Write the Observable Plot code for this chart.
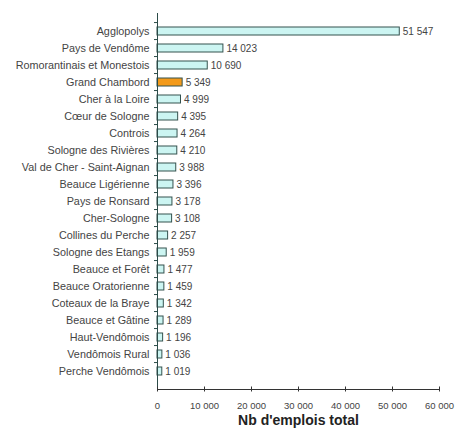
<!DOCTYPE html>
<html><head><meta charset="utf-8">
<script src="https://cdn.jsdelivr.net/npm/d3@7"></script>
<script src="https://cdn.jsdelivr.net/npm/@observablehq/plot@0.6"></script>
<style>
body{margin:0;background:#fff;}
#chart{width:457px;height:437px;}
</style>
</head><body><div id="chart"></div>
<script>
const territories = ["Agglopolys","Pays de Vendôme","Romorantinais et Monestois","Grand Chambord","Cher à la Loire","Cœur de Sologne","Controis","Sologne des Rivières","Val de Cher - Saint-Aignan","Beauce Ligérienne","Pays de Ronsard","Cher-Sologne","Collines du Perche","Sologne des Etangs","Beauce et Forêt","Beauce Oratorienne","Coteaux de la Braye","Beauce et Gâtine","Haut-Vendômois","Vendômois Rural","Perche Vendômois"];
const emplois = [51547,14023,10690,5349,4999,4395,4264,4210,3988,3396,3178,3108,2257,1959,1477,1459,1342,1289,1196,1036,1019];
const highlight = "Grand Chambord";
const xTicks = [0,10000,20000,30000,40000,50000,60000];
const xTitle = "Nb d'emplois total";

const fr = d3.formatLocale({decimal:",", thousands:"\u00a0", grouping:[3], currency:["","€"]});
const fmt = fr.format(",d");
const data = territories.map((t,i)=>({t, v: emplois[i], hl: t===highlight}));

const W = 457, H = 437, mt = 13, mb = 48, ml = 157, mr = 18;
const step = (H - mt - mb) / territories.length;

const chart = Plot.plot({
  width: W, height: H,
  marginTop: mt, marginBottom: mb, marginLeft: ml, marginRight: mr,
  style: {fontFamily: "'Liberation Sans', Arial, sans-serif", fontSize: "9px", color: "#444", background: "#fff"},
  x: {domain: [0, 60000]},
  y: {domain: territories, paddingInner: 0.55, paddingOuter: 0.275, label: null},
  marks: [
    Plot.barX(data, {x: "v", y: "t", fill: d => d.hl ? "#f39a1b" : "#ccf5f2", stroke: "#34524f", strokeWidth: 1}),
    Plot.text(data, {x: "v", y: "t", text: d => fmt(d.v), textAnchor: "start", dx: 3, fill: "#444", fontSize: 10}),
    Plot.axisY({tickSize: 0, tickPadding: 8, fontSize: 10.8, fill: "#444", label: null}),
    Plot.axisY({tickSize: 3, text: null, dy: -step/2, stroke: "#2b4b48", label: null}),
    Plot.ruleX([0], {stroke: "#2b4b48"}),
    Plot.frame({anchor: "bottom", stroke: "#333"}),
    Plot.axisX({ticks: xTicks, text: null, tickSize: 5, dy: -2.5, stroke: "#333", label: null}),
    Plot.axisX({ticks: xTicks, tickFormat: d => fmt(d), tickSize: 0, tickPadding: 13, fontSize: 9.5, fill: "#444", label: null}),
    Plot.text([xTitle], {frameAnchor: "bottom", dy: 35, fontWeight: "bold", fontSize: 14, fill: "#222"}),
  ]
});
document.getElementById("chart").appendChild(chart);
</script>
</body></html>
